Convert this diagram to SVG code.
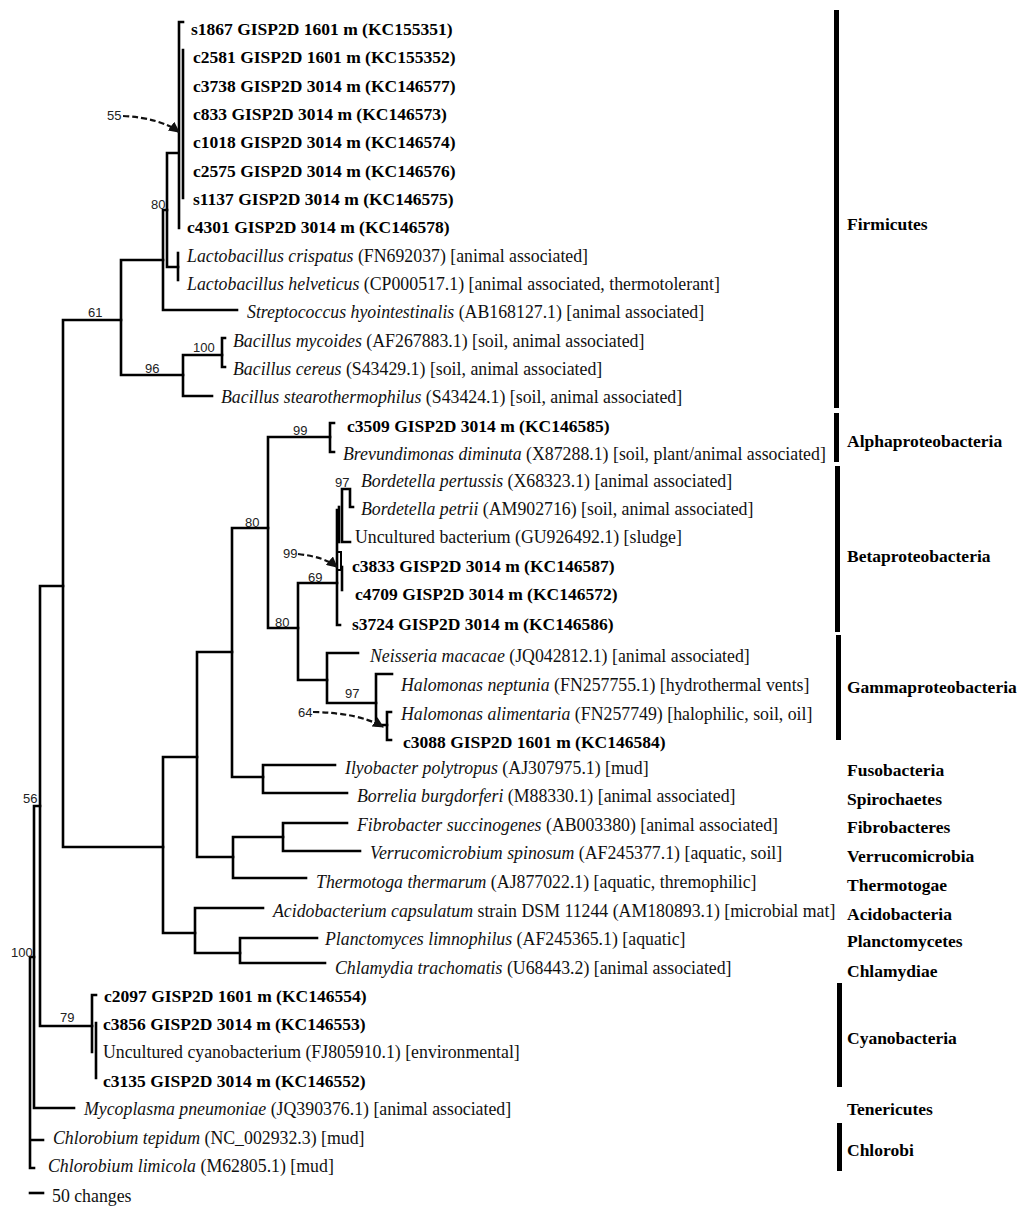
<svg xmlns="http://www.w3.org/2000/svg" width="1024" height="1219" viewBox="0 0 1024 1219">
<style>
text{font-family:"Liberation Serif","Times New Roman",serif;font-size:17.8px;fill:#111}
.b{font-weight:bold;fill:#000;font-size:17.5px}
.i{font-style:italic}
.n{font-family:"Liberation Sans",Arial,sans-serif;font-size:13px;fill:#222}
.t{fill:none;stroke:#000;stroke-width:2.6;stroke-linecap:square}
.d{fill:none;stroke:#111;stroke-width:2.2;stroke-dasharray:6,3}
.bar{fill:#000}
</style>
<defs>
<marker id="ah" viewBox="0 0 10 10" refX="9" refY="5" markerWidth="5" markerHeight="5" orient="auto">
<path d="M0,0 L10,5 L0,10 z" fill="#111"/>
</marker>
</defs>
<rect width="1024" height="1219" fill="#fff"/>
<g id="connectors">
<path class="t" d="M30,957 V1168 M30,957 H34 M30,1140 H43 M30,1168 H34"/>
<path class="t" d="M34,806 V1108 M34,806 H40 M34,1108 H74"/>
<path class="t" d="M40,586 V1026 M40,586 H63 M40,1026 H92"/>
<path class="t" d="M92,995 V1052 M92,995 H96 M96,1023 V1078"/>
<path class="t" d="M63,320 V847 M63,320 H121 M63,847 H163"/>
<path class="t" d="M121,260 V375 M121,260 H163 M121,375 H183"/>
<path class="t" d="M163,210 V310 M163,210 H167 M163,310 H237"/>
<path class="t" d="M167,153 V267 M167,153 H178 M167,267 H178"/>
<path class="t" d="M178,253 V280"/>
<path class="t" d="M179,22 V228 M179,22 H183 M183,50 V198"/>
<path class="t" d="M183,355 V396 M183,355 H222 M183,396 H212"/>
<path class="t" d="M222,338 V367 M222,338 H225 M222,367 H225"/>
<path class="t" d="M163,757 V933 M163,757 H197 M163,933 H195"/>
<path class="t" d="M195,908 V953 M195,908 H263 M195,953 H240"/>
<path class="t" d="M240,938 V963 M240,938 H317 M240,963 H325"/>
<path class="t" d="M197,652 V857 M197,652 H232 M197,857 H233"/>
<path class="t" d="M233,837 V878 M233,837 H283 M233,878 H306"/>
<path class="t" d="M283,823 V851 M283,823 H347 M283,851 H360"/>
<path class="t" d="M232,528 V777 M232,528 H268 M232,777 H263"/>
<path class="t" d="M263,765 V793 M263,765 H335 M263,793 H347"/>
<path class="t" d="M268,437 V628 M268,437 H330 M268,628 H298"/>
<path class="t" d="M330,423 V452 M330,423 H334 M330,452 H334"/>
<path class="t" d="M298,583 V680 M298,583 H337 M298,680 H327"/>
<path class="t" d="M327,653 V703 M327,653 H358 M327,703 H376"/>
<path class="t" d="M376,674 V725 M376,674 H392 M376,725 H387"/>
<path class="t" d="M387,712 V740 M387,712 H391 M387,740 H391"/>
<path class="t" d="M337,510 V625 M337,625 H340"/>
<path class="t" d="M342,489 V542 M342,489 H350 M350,489 V507 M350,507 H353 M342,542 H350"/>
<path class="t" d="M339,507 V542"/>
<rect x="337" y="552" width="4" height="18" fill="none" stroke="#000" stroke-width="2"/>
<path class="t" d="M342,567 V590"/>
<path class="t" d="M30,1193 H43"/>
<path class="d" d="M123,116 Q160,118 179,132" marker-end="url(#ah)"/>
<path class="d" d="M298,554 Q325,557 337,567" marker-end="url(#ah)"/>
<path class="d" d="M313,712 Q360,713 383,727" marker-end="url(#ah)"/>
</g>
<g id="support">
<text class="n" x="107" y="120">55</text>
<text class="n" x="151" y="209">80</text>
<text class="n" x="88" y="317">61</text>
<text class="n" x="193" y="352">100</text>
<text class="n" x="145" y="373">96</text>
<text class="n" x="293" y="435">99</text>
<text class="n" x="335" y="487">97</text>
<text class="n" x="245" y="527">80</text>
<text class="n" x="283" y="558">99</text>
<text class="n" x="308" y="582">69</text>
<text class="n" x="275" y="627">80</text>
<text class="n" x="345" y="698">97</text>
<text class="n" x="298" y="717">64</text>
<text class="n" x="23" y="803">56</text>
<text class="n" x="11" y="957">100</text>
<text class="n" x="60" y="1022">79</text>
</g>
<g id="leaf-s1867"><text class="b" x="191" y="35">s1867 GISP2D 1601 m (KC155351)</text></g>
<g id="leaf-c2581"><text class="b" x="193" y="63">c2581 GISP2D 1601 m (KC155352)</text></g>
<g id="leaf-c3738"><text class="b" x="193" y="92">c3738 GISP2D 3014 m (KC146577)</text></g>
<g id="leaf-c833"><text class="b" x="193" y="120">c833 GISP2D 3014 m (KC146573)</text></g>
<g id="leaf-c1018"><text class="b" x="193" y="148">c1018 GISP2D 3014 m (KC146574)</text></g>
<g id="leaf-c2575"><text class="b" x="193" y="177">c2575 GISP2D 3014 m (KC146576)</text></g>
<g id="leaf-s1137"><text class="b" x="193" y="205">s1137 GISP2D 3014 m (KC146575)</text></g>
<g id="leaf-c4301"><text class="b" x="187" y="233">c4301 GISP2D 3014 m (KC146578)</text></g>
<g id="leaf-lcrispatus"><text x="187" y="262"><tspan class="i">Lactobacillus crispatus</tspan> (FN692037) [animal associated]</text></g>
<g id="leaf-lhelveticus"><text x="187" y="290"><tspan class="i">Lactobacillus helveticus</tspan> (CP000517.1) [animal associated, thermotolerant]</text></g>
<g id="leaf-strep"><text x="247" y="318"><tspan class="i">Streptococcus hyointestinalis</tspan> (AB168127.1) [animal associated]</text></g>
<g id="leaf-bmycoides"><text x="233" y="347"><tspan class="i">Bacillus mycoides</tspan> (AF267883.1) [soil, animal associated]</text></g>
<g id="leaf-bcereus"><text x="233" y="375"><tspan class="i">Bacillus cereus</tspan> (S43429.1) [soil, animal associated]</text></g>
<g id="leaf-bstearo"><text x="221" y="403"><tspan class="i">Bacillus stearothermophilus</tspan> (S43424.1) [soil, animal associated]</text></g>
<g id="leaf-c3509"><text class="b" x="347" y="432">c3509 GISP2D 3014 m (KC146585)</text></g>
<g id="leaf-brevundimonas"><text x="343" y="460"><tspan class="i">Brevundimonas diminuta</tspan> (X87288.1) [soil, plant/animal associated]</text></g>
<g id="leaf-bpertussis"><text x="361" y="487"><tspan class="i">Bordetella pertussis</tspan> (X68323.1) [animal associated]</text></g>
<g id="leaf-bpetrii"><text x="361" y="515"><tspan class="i">Bordetella petrii</tspan> (AM902716) [soil, animal associated]</text></g>
<g id="leaf-uncultured"><text x="355" y="543">Uncultured bacterium (GU926492.1) [sludge]</text></g>
<g id="leaf-c3833"><text class="b" x="352" y="572">c3833 GISP2D 3014 m (KC146587)</text></g>
<g id="leaf-c4709"><text class="b" x="355" y="600">c4709 GISP2D 3014 m (KC146572)</text></g>
<g id="leaf-s3724"><text class="b" x="352" y="630">s3724 GISP2D 3014 m (KC146586)</text></g>
<g id="leaf-neisseria"><text x="370" y="662"><tspan class="i">Neisseria macacae</tspan> (JQ042812.1) [animal associated]</text></g>
<g id="leaf-hneptunia"><text x="401" y="691"><tspan class="i">Halomonas neptunia</tspan> (FN257755.1) [hydrothermal vents]</text></g>
<g id="leaf-halimentaria"><text x="401" y="720"><tspan class="i">Halomonas alimentaria</tspan> (FN257749) [halophilic, soil, oil]</text></g>
<g id="leaf-c3088"><text class="b" x="403" y="748">c3088 GISP2D 1601 m (KC146584)</text></g>
<g id="leaf-ilyobacter"><text x="345" y="774"><tspan class="i">Ilyobacter polytropus</tspan> (AJ307975.1) [mud]</text></g>
<g id="leaf-borrelia"><text x="357" y="802"><tspan class="i">Borrelia burgdorferi</tspan> (M88330.1) [animal associated]</text></g>
<g id="leaf-fibrobacter"><text x="357" y="831"><tspan class="i">Fibrobacter succinogenes</tspan> (AB003380) [animal associated]</text></g>
<g id="leaf-verruco"><text x="370" y="859"><tspan class="i">Verrucomicrobium spinosum</tspan> (AF245377.1) [aquatic, soil]</text></g>
<g id="leaf-thermotoga"><text x="316" y="888"><tspan class="i">Thermotoga thermarum</tspan> (AJ877022.1) [aquatic, thremophilic]</text></g>
<g id="leaf-acidobacterium"><text x="273" y="917"><tspan class="i">Acidobacterium capsulatum</tspan> strain DSM 11244 (AM180893.1) [microbial mat]</text></g>
<g id="leaf-planctomyces"><text x="325" y="945"><tspan class="i">Planctomyces limnophilus</tspan> (AF245365.1) [aquatic]</text></g>
<g id="leaf-chlamydia"><text x="335" y="974"><tspan class="i">Chlamydia trachomatis</tspan> (U68443.2) [animal associated]</text></g>
<g id="leaf-c2097"><text class="b" x="104" y="1002">c2097 GISP2D 1601 m (KC146554)</text></g>
<g id="leaf-c3856"><text class="b" x="103" y="1030">c3856 GISP2D 3014 m (KC146553)</text></g>
<g id="leaf-uncyano"><text x="103" y="1058">Uncultured cyanobacterium (FJ805910.1) [environmental]</text></g>
<g id="leaf-c3135"><text class="b" x="103" y="1087">c3135 GISP2D 3014 m (KC146552)</text></g>
<g id="leaf-mycoplasma"><text x="84" y="1115"><tspan class="i">Mycoplasma pneumoniae</tspan> (JQ390376.1) [animal associated]</text></g>
<g id="leaf-ctepidum"><text x="53" y="1144"><tspan class="i">Chlorobium tepidum</tspan> (NC_002932.3) [mud]</text></g>
<g id="leaf-climicola"><text x="48" y="1172"><tspan class="i">Chlorobium limicola</tspan> (M62805.1) [mud]</text></g>
<g id="scale"><text x="52" y="1202">50 changes</text></g>
<g id="clades">
<rect class="bar" x="834" y="10" width="5" height="398"/>
<rect class="bar" x="834" y="413" width="5" height="49"/>
<rect class="bar" x="835" y="466" width="5" height="166"/>
<rect class="bar" x="836" y="635" width="5" height="105"/>
<rect class="bar" x="837" y="983" width="5" height="104"/>
<rect class="bar" x="837" y="1123" width="5" height="48"/>
<text class="b" x="847" y="230">Firmicutes</text>
<text class="b" x="847" y="447">Alphaproteobacteria</text>
<text class="b" x="847" y="562">Betaproteobacteria</text>
<text class="b" x="847" y="693">Gammaproteobacteria</text>
<text class="b" x="847" y="776">Fusobacteria</text>
<text class="b" x="847" y="805">Spirochaetes</text>
<text class="b" x="847" y="833">Fibrobacteres</text>
<text class="b" x="847" y="862">Verrucomicrobia</text>
<text class="b" x="847" y="891">Thermotogae</text>
<text class="b" x="847" y="920">Acidobacteria</text>
<text class="b" x="847" y="947">Planctomycetes</text>
<text class="b" x="847" y="977">Chlamydiae</text>
<text class="b" x="847" y="1044">Cyanobacteria</text>
<text class="b" x="847" y="1115">Tenericutes</text>
<text class="b" x="847" y="1156">Chlorobi</text>
</g>
</svg>
